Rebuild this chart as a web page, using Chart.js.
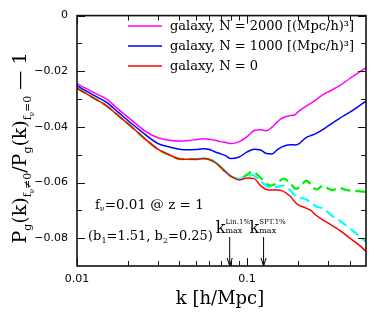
<!DOCTYPE html>
<html>
<head>
<meta charset="utf-8">
<script src="https://cdn.jsdelivr.net/npm/chart.js@4.4.0/dist/chart.umd.min.js"></script>
<style>
  html, body { margin: 0; padding: 0; background: #fff; }
</style>
</head>
<body>
<canvas id="chart" width="374" height="315"></canvas>
<script>
// k grid for the three solid curves
const kMain = [0.01, 0.0125, 0.015, 0.0175, 0.02, 0.025, 0.03, 0.035, 0.04, 0.045, 0.05, 0.055,
  0.06, 0.065, 0.07, 0.075, 0.08, 0.09, 0.1, 0.11, 0.12, 0.13, 0.14, 0.15, 0.16, 0.18, 0.19,
  0.2, 0.22, 0.24, 0.25, 0.28, 0.3, 0.35, 0.4, 0.45, 0.5];

const galaxyN2000 = [-0.0245, -0.0276, -0.0301, -0.0337, -0.0366, -0.0414, -0.0439, -0.0448,
  -0.0451, -0.0449, -0.0446, -0.0443, -0.0444, -0.0448, -0.0453, -0.0456, -0.0460, -0.0453,
  -0.0435, -0.0413, -0.0410, -0.0414, -0.0401, -0.0383, -0.0369, -0.0359, -0.0357, -0.0345,
  -0.0327, -0.0313, -0.0306, -0.0284, -0.0274, -0.0252, -0.0227, -0.0206, -0.0187];

const galaxyN1000 = [-0.0252, -0.0286, -0.0313, -0.0348, -0.0378, -0.0426, -0.0460, -0.0472,
  -0.0480, -0.0482, -0.0481, -0.0479, -0.0481, -0.0490, -0.0497, -0.0504, -0.0514, -0.0508,
  -0.0490, -0.0480, -0.0483, -0.0496, -0.0497, -0.0483, -0.0472, -0.0464, -0.0465, -0.0462,
  -0.0440, -0.0430, -0.0426, -0.0409, -0.0396, -0.0369, -0.0348, -0.0327, -0.0307];

const galaxyN0 = [-0.0261, -0.0296, -0.0325, -0.0360, -0.0389, -0.0442, -0.0481, -0.0501,
  -0.0515, -0.0516, -0.0516, -0.0514, -0.0517, -0.0528, -0.0545, -0.0563, -0.0577, -0.0591,
  -0.0584, -0.0586, -0.0611, -0.0625, -0.0627, -0.0627, -0.0629, -0.0650, -0.0668, -0.0680,
  -0.0691, -0.0703, -0.0714, -0.0735, -0.0746, -0.0772, -0.0799, -0.0822, -0.0847];

// dashed green curve
const kGreen = [0.01, 0.0125, 0.015, 0.0175, 0.02, 0.025, 0.03, 0.035, 0.04, 0.045, 0.05, 0.055,
  0.06, 0.065, 0.07, 0.075, 0.08, 0.09, 0.1, 0.107, 0.12, 0.137, 0.15, 0.164, 0.18, 0.194,
  0.21, 0.223, 0.24, 0.255, 0.27, 0.281, 0.3, 0.317, 0.335, 0.35, 0.375, 0.4, 0.45, 0.5];
const greenVals = [-0.0261, -0.0296, -0.0325, -0.0360, -0.0389, -0.0442, -0.0481, -0.0501,
  -0.0515, -0.0516, -0.0516, -0.0514, -0.0517, -0.0528, -0.0545, -0.0563, -0.0577, -0.0586,
  -0.0572, -0.0561, -0.0583, -0.0611, -0.0602, -0.0586, -0.0604, -0.0623, -0.0607, -0.0593,
  -0.0611, -0.0625, -0.0616, -0.0611, -0.0622, -0.0627, -0.0622, -0.0620, -0.0625, -0.0629,
  -0.0631, -0.0634];

// dashed cyan curve
const kCyan = [0.05, 0.055, 0.06, 0.065, 0.07, 0.075, 0.08, 0.09, 0.1, 0.107, 0.12, 0.137, 0.15,
  0.164, 0.18, 0.194, 0.223, 0.255, 0.281, 0.317, 0.35, 0.4, 0.45, 0.5];
const cyanVals = [-0.0516, -0.0514, -0.0517, -0.0527, -0.0544, -0.0561, -0.0575, -0.0587,
  -0.0578, -0.0573, -0.0595, -0.0618, -0.0616, -0.0611, -0.0629, -0.0650, -0.0661, -0.0686,
  -0.0694, -0.0721, -0.0737, -0.0764, -0.0790, -0.0813];

const yTicks = [0, -0.02, -0.04, -0.06, -0.08];
const xTickLabels = [0.01, 0.1];
const xMinor = [0.02, 0.03, 0.04, 0.05, 0.06, 0.07, 0.08, 0.09, 0.2, 0.3, 0.4];
const yMinor = [-0.01, -0.03, -0.05, -0.07];

const kLin = 0.079;
const kSpt = 0.125;

const legendItems = [
  { color: "#ff00ff", text: "galaxy, N = 2000 [(Mpc/h)³]" },
  { color: "#0000ff", text: "galaxy, N = 1000 [(Mpc/h)³]" },
  { color: "#ff0000", text: "galaxy, N = 0" },
];

const pts = (ks, vs) => ks.map((k, i) => ({ x: k, y: vs[i] }));

const SERIF = '"DejaVu Serif", serif';

// draw a row of text pieces: [text, size, dy]
const drawPieces = (ctx, x, y, pieces) => {
  pieces.forEach(([t, size, dy]) => {
    ctx.font = size + "px " + SERIF;
    ctx.fillText(t, x, y + dy);
    x += ctx.measureText(t).width;
  });
  return x;
};

const piecesWidth = (ctx, pieces) => {
  let w = 0;
  pieces.forEach(([t, size]) => {
    ctx.font = size + "px " + SERIF;
    w += ctx.measureText(t).width;
  });
  return w;
};

const framePlugin = {
  id: "frame",
  afterDraw(chart) {
    const { ctx, chartArea: a, scales } = chart;
    const xs = scales.x, ys = scales.y;
    ctx.save();
    ctx.strokeStyle = "#111";
    ctx.lineWidth = 1.6;
    ctx.strokeRect(a.left, a.top, a.right - a.left, a.bottom - a.top);
    ctx.lineWidth = 1;
    ctx.beginPath();
    const tickX = (k, len) => {
      const p = Math.round(xs.getPixelForValue(k)) + 0.5;
      ctx.moveTo(p, a.bottom); ctx.lineTo(p, a.bottom - len);
      ctx.moveTo(p, a.top); ctx.lineTo(p, a.top + len);
    };
    const tickY = (v, len) => {
      const p = Math.round(ys.getPixelForValue(v)) + 0.5;
      ctx.moveTo(a.left, p); ctx.lineTo(a.left + len, p);
      ctx.moveTo(a.right, p); ctx.lineTo(a.right - len, p);
    };
    xTickLabels.forEach((k) => tickX(k, 8));
    xMinor.forEach((k) => tickX(k, 5));
    yTicks.forEach((v) => tickY(v, 8));
    yMinor.forEach((v) => tickY(v, 5));
    ctx.stroke();
    ctx.restore();
  },
};

const textPlugin = {
  id: "texts",
  afterDraw(chart) {
    const { ctx, chartArea: a, scales } = chart;
    ctx.save();
    ctx.fillStyle = "#000";
    ctx.textBaseline = "alphabetic";

    // legend
    legendItems.forEach((item, i) => {
      const y = 26 + i * 20;
      ctx.strokeStyle = item.color;
      ctx.lineWidth = 1.5;
      ctx.beginPath();
      ctx.moveTo(128, y);
      ctx.lineTo(162, y);
      ctx.stroke();
      ctx.font = "13px " + SERIF;
      ctx.fillText(item.text, 170, y + 4);
    });

    // annotations
    drawPieces(ctx, 95, 209, [["f", 13, 0], ["ν", 8, 2], ["=0.01 @ z = 1", 13.5, 0]]);
    drawPieces(ctx, 88, 240, [["(b", 13, 0], ["1", 8, 3], ["=1.51, b", 13, 0], ["2", 8, 3], ["=0.25)", 13, 0]]);

    // k_max markers
    [[kLin, "Lin.1%"], [kSpt, "SPT.1%"]].forEach(([k, sup]) => {
      const px = scales.x.getPixelForValue(k);
      const x0 = px - 14;
      ctx.font = "16px " + SERIF;
      ctx.fillText("k", x0, 233);
      const xs = x0 + ctx.measureText("k").width;
      ctx.font = "7px " + SERIF;
      ctx.fillText(sup, xs, 224);
      ctx.font = "8px " + SERIF;
      ctx.fillText("max", xs, 233);
      ctx.strokeStyle = "#000";
      ctx.lineWidth = 1;
      ctx.beginPath();
      ctx.moveTo(px, 237);
      ctx.lineTo(px, a.bottom);
      ctx.moveTo(px - 2.5, a.bottom - 8);
      ctx.lineTo(px, a.bottom);
      ctx.lineTo(px + 2.5, a.bottom - 8);
      ctx.stroke();
    });

    // x axis title
    ctx.font = "18px " + SERIF;
    ctx.textAlign = "center";
    ctx.fillText("k [h/Mpc]", 220, 304);
    ctx.textAlign = "left";

    // y axis title
    const yTitle = [
      ["P", 19, 0], ["g", 11, 5], ["(k)", 19, 0], ["f", 11, 5], ["ν", 7, 8], ["≠0", 11, 5],
      ["/P", 19, 0], ["g", 11, 5], ["(k)", 19, 0], ["f", 11, 5], ["ν", 7, 8], ["=0", 11, 5],
      [" — 1", 19, 0],
    ];
    const w = piecesWidth(ctx, yTitle);
    ctx.translate(26, 148);
    ctx.rotate(-Math.PI / 2);
    drawPieces(ctx, -w / 2, 0, yTitle);
    ctx.restore();
  },
};

new Chart(document.getElementById("chart"), {
  type: "line",
  data: {
    datasets: [
      { data: pts(kMain, galaxyN2000), borderColor: "#ff00ff", borderWidth: 1.5 },
      { data: pts(kMain, galaxyN1000), borderColor: "#0000ff", borderWidth: 1.5 },
      { data: pts(kMain, galaxyN0), borderColor: "#ff0000", borderWidth: 1.5 },
      { data: pts(kCyan, cyanVals), borderColor: "#00ffff", borderWidth: 2.2, borderDash: [10, 5] },
      { data: pts(kGreen, greenVals), borderColor: "#00ee00", borderWidth: 2.2, borderDash: [10, 5] },
    ],
  },
  options: {
    responsive: false,
    animation: false,
    layout: { padding: { left: 0, top: 13, right: 8, bottom: 0 } },
    elements: {
      point: { radius: 0 },
      line: { cubicInterpolationMode: "monotone", fill: false },
    },
    plugins: { legend: { display: false }, tooltip: { enabled: false } },
    scales: {
      x: {
        type: "logarithmic",
        min: 0.01,
        max: 0.5,
        grid: { display: false, drawTicks: false },
        border: { display: false },
        afterFit: (s) => { s.height = 49; },
        afterBuildTicks: (s) => { s.ticks = xTickLabels.map((v) => ({ value: v })); },
        ticks: {
          autoSkip: false,
          maxRotation: 0,
          padding: 7,
          color: "#000",
          font: { family: '"DejaVu Sans", sans-serif', size: 11 },
          callback: (v) => String(v),
        },
      },
      y: {
        min: -0.09,
        max: 0,
        grid: { display: false, drawTicks: false },
        border: { display: false },
        afterFit: (s) => { s.width = 77; },
        afterBuildTicks: (s) => { s.ticks = yTicks.map((v) => ({ value: v })); },
        ticks: {
          padding: 9,
          color: "#000",
          font: { family: '"DejaVu Sans", sans-serif', size: 11 },
          callback: (v) => (v === 0 ? "0" : "−" + Math.abs(v).toFixed(2)),
        },
      },
    },
  },
  plugins: [framePlugin, textPlugin],
});
</script>
</body>
</html>
